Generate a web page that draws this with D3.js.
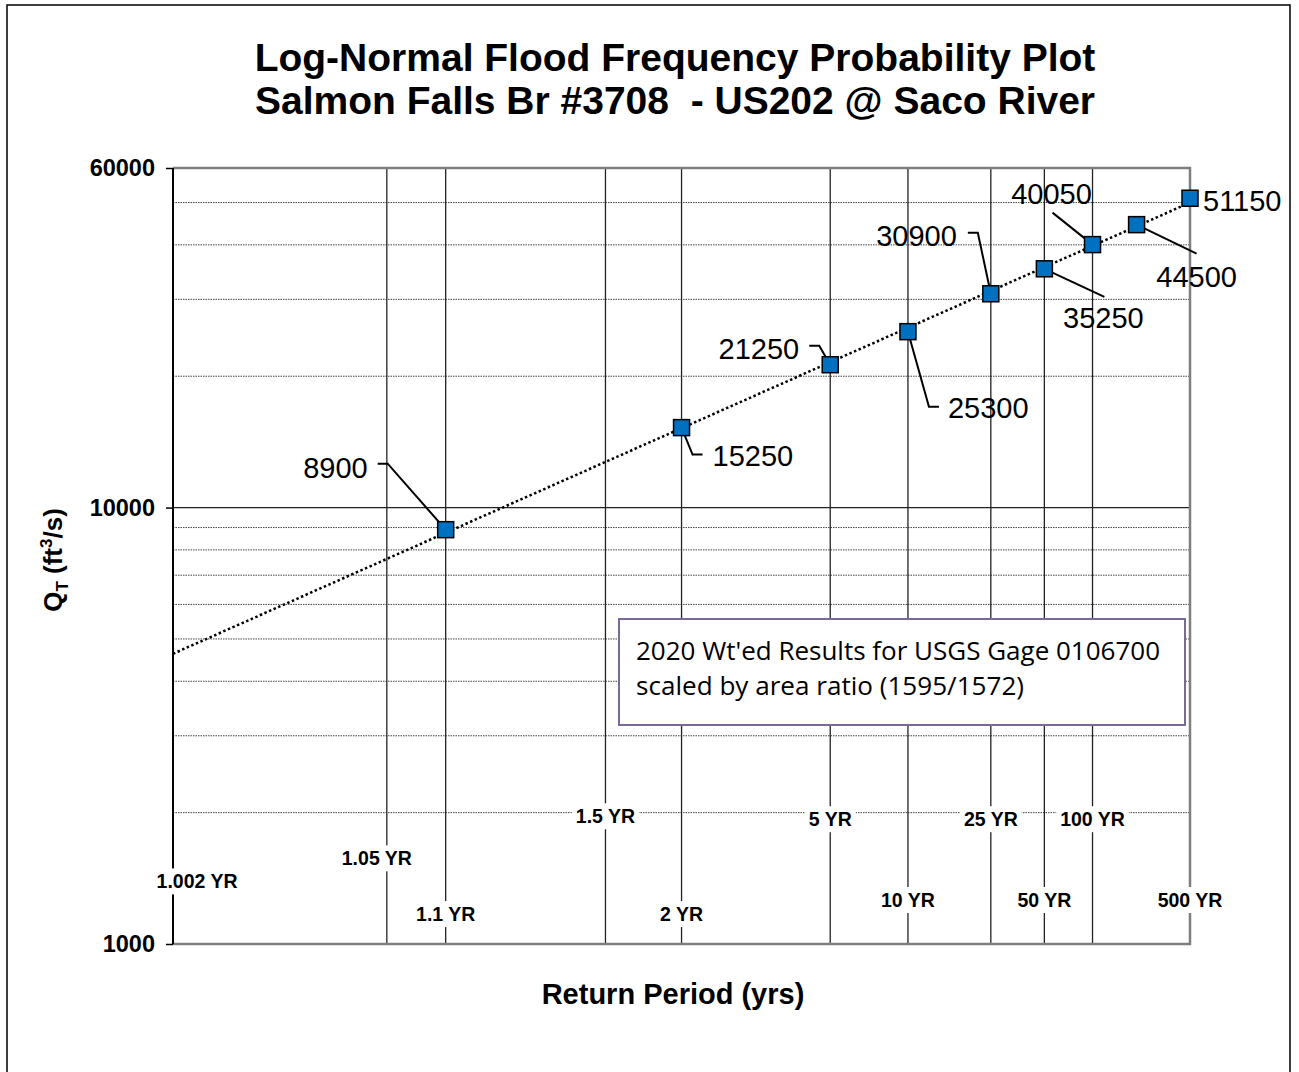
<!DOCTYPE html>
<html>
<head>
<meta charset="utf-8">
<script src="https://cdn.jsdelivr.net/npm/d3@7"></script>
<style>
  body { margin: 0; background: #fff; }
  svg { font-family: "Liberation Sans", Arial, sans-serif; }
</style>
</head>
<body>
<svg id="chart" width="1299" height="1072"></svg>
<script>
// ---- data ----
const returnPeriods = [1.1, 2, 5, 10, 25, 50, 100, 200, 500];
const flows = [8900, 15250, 21250, 25300, 30900, 35250, 40050, 44500, 51150];

const gridPeriods = [1.002, 1.05, 1.1, 1.5, 2, 5, 10, 25, 50, 100, 500];
const gridLabels = ["1.002 YR", "1.05 YR", "1.1 YR", "1.5 YR", "2 YR", "5 YR", "10 YR", "25 YR", "50 YR", "100 YR", "500 YR"];
const gridLabelQ = [1390, 1570, 1170, 1960, 1170, 1930, 1260, 1930, 1260, 1930, 1260];

const yTickValues = [1000, 10000, 60000];
const yMinorGrid = [2000, 3000, 4000, 5000, 6000, 7000, 8000, 9000, 20000, 30000, 40000, 50000];

// label placement (pixel offsets from each point), leader line bends
const labelLayout = [
    { dx: -78, dy: -62, anchor: "end",    leader: [[-58, -66], [-68, -66]] },
    { dx: 31,  dy: 28,  anchor: "start",  leader: [[11, 27], [21, 27]] },
    { dx: -31, dy: -16, anchor: "end",    leader: [[-11, -19], [-21, -19]] },
    { dx: 40,  dy: 76,  anchor: "start",  leader: [[21, 75], [31, 75]] },
    { dx: -34, dy: -58, anchor: "end",    leader: [[-13, -61], [-23, -61]] },
    { dx: 59,  dy: 49,  anchor: "middle", leader: [[60, 28]] },
    { dx: -41, dy: -51, anchor: "middle", leader: [[-40, -32]] },
    { dx: 60,  dy: 52,  anchor: "middle", leader: [[60, 29]] },
    { dx: 13,  dy: 3,   anchor: "start",  leader: [] }
];
const gridLabelDx = [24, -10, 0, 0, 0, 0, 0, 0, 0, 0, 0];

// inverse standard normal CDF (Acklam)
function normInv(p) {
    const a = [-39.69683028665376, 220.9460984245205, -275.9285104469687, 138.357751867269, -30.66479806614716, 2.506628277459239];
    const b = [-54.47609879822406, 161.5858368580409, -155.6989798598866, 66.80131188771972, -13.28068155288572];
    const c = [-0.007784894002430293, -0.3223964580411365, -2.400758277161838, -2.549732539343734, 4.374664141464968, 2.938163982698783];
    const d = [0.007784695709041462, 0.3224671290700398, 2.445134137142996, 3.754408661907416];
    const pl = 0.02425;
    let q, r;
    if (p < pl) {
        q = Math.sqrt(-2 * Math.log(p));
        return (((((c[0]*q+c[1])*q+c[2])*q+c[3])*q+c[4])*q+c[5]) / ((((d[0]*q+d[1])*q+d[2])*q+d[3])*q+1);
    } else if (p <= 1 - pl) {
        q = p - 0.5; r = q * q;
        return (((((a[0]*r+a[1])*r+a[2])*r+a[3])*r+a[4])*r+a[5])*q / (((((b[0]*r+b[1])*r+b[2])*r+b[3])*r+b[4])*r+1);
    }
    q = Math.sqrt(-2 * Math.log(1 - p));
    return -(((((c[0]*q+c[1])*q+c[2])*q+c[3])*q+c[4])*q+c[5]) / ((((d[0]*q+d[1])*q+d[2])*q+d[3])*q+1);
}
const zOf = T => normInv(1 - 1 / T);

const svg = d3.select("#chart");
const plot = { left: 173, right: 1190, top: 168, bottom: 944 };

const xScale = d3.scaleLinear().domain([zOf(1.002), zOf(500)]).range([plot.left, plot.right]);
const yScale = d3.scaleLog().domain([1000, 60000]).range([plot.bottom, plot.top]);

// outer chart border
svg.append("rect")
    .attr("x", 7).attr("y", 5).attr("width", 1283).attr("height", 1080)
    .attr("fill", "none").attr("stroke", "#000").attr("stroke-width", 1.5);

// title
const title = svg.append("text")
    .attr("text-anchor", "middle")
    .attr("font-weight", "bold")
    .attr("font-size", 39);
title.append("tspan").attr("x", 675).attr("y", 71).text("Log-Normal Flood Frequency Probability Plot");
title.append("tspan").attr("x", 675).attr("y", 114).text("Salmon Falls Br #3708  - US202 @ Saco River")
    .attr("xml:space", "preserve").style("white-space", "pre");

const g = svg.append("g");

// horizontal grid
g.selectAll(".hgrid")
    .data(yMinorGrid)
    .enter().append("line")
    .attr("x1", plot.left).attr("x2", plot.right)
    .attr("y1", d => yScale(d)).attr("y2", d => yScale(d))
    .attr("stroke", "#444").attr("stroke-width", 1)
    .attr("stroke-dasharray", "1.5,1");

g.append("line")
    .attr("x1", plot.left).attr("x2", plot.right)
    .attr("y1", yScale(10000)).attr("y2", yScale(10000))
    .attr("stroke", "#222").attr("stroke-width", 1.2);

// vertical grid
g.selectAll(".vgrid")
    .data(gridPeriods.slice(1, -1))
    .enter().append("line")
    .attr("x1", d => xScale(zOf(d))).attr("x2", d => xScale(zOf(d)))
    .attr("y1", plot.top).attr("y2", plot.bottom)
    .attr("stroke", "#222").attr("stroke-width", 1.3);

// plot frame
g.append("path")
    .attr("d", `M${plot.left},${plot.top}H${plot.right}V${plot.bottom}H${plot.left}`)
    .attr("fill", "none").attr("stroke", "#7f7f7f").attr("stroke-width", 2.5);
g.append("line")
    .attr("x1", plot.left).attr("x2", plot.left)
    .attr("y1", plot.top).attr("y2", plot.bottom)
    .attr("stroke", "#000").attr("stroke-width", 2);

// y axis ticks + labels
const yAxis = d3.axisLeft(yScale)
    .tickValues(yTickValues)
    .tickFormat(d3.format("d"))
    .tickSize(7)
    .tickPadding(11);
const ya = svg.append("g").attr("transform", `translate(${plot.left},0)`).call(yAxis);
ya.select(".domain").remove();
ya.selectAll(".tick line").attr("stroke", "#000").attr("stroke-width", 1.5);
ya.attr("font-family", null).attr("font-size", null);
ya.selectAll(".tick text")
    .attr("font-size", 23.5).attr("font-weight", "bold").attr("fill", "#000");

// return period labels (white backed)
const rl = g.selectAll(".rp-label")
    .data(gridPeriods)
    .enter().append("g")
    .attr("transform", (d, i) => `translate(${xScale(zOf(d)) + gridLabelDx[i]},${yScale(gridLabelQ[i])})`);
rl.append("text")
    .attr("text-anchor", "middle")
    .attr("dy", "0.35em")
    .attr("font-size", 19.5).attr("font-weight", "bold")
    .text((d, i) => gridLabels[i]);
rl.each(function () {
    const t = d3.select(this).select("text");
    const bb = t.node().getBBox();
    d3.select(this).insert("rect", "text")
        .attr("x", bb.x - 4).attr("y", bb.y - 2)
        .attr("width", bb.width + 8).attr("height", bb.height + 4)
        .attr("fill", "#fff");
});

// log-normal trend line: least squares of log10(Q) on z
const pts = returnPeriods.map((T, i) => ({ z: zOf(T), lq: Math.log10(flows[i]), T, Q: flows[i] }));
const mz = d3.mean(pts, d => d.z), mq = d3.mean(pts, d => d.lq);
const slope = d3.sum(pts, d => (d.z - mz) * (d.lq - mq)) / d3.sum(pts, d => (d.z - mz) ** 2);
const icpt = mq - slope * mz;
const trendZ = xScale.domain();
g.append("path")
    .datum(trendZ)
    .attr("d", d3.line().x(z => xScale(z)).y(z => yScale(Math.pow(10, icpt + slope * z))))
    .attr("fill", "none").attr("stroke", "#000").attr("stroke-width", 2.5)
    .attr("stroke-dasharray", "2.5,2.5");

// leader lines
g.selectAll(".leader")
    .data(pts)
    .enter().append("polyline")
    .filter((d, i) => labelLayout[i].leader.length > 0)
    .attr("points", function (d) {
        const i = pts.indexOf(d);
        const x = xScale(d.z), y = yScale(d.Q);
        const pp = [[x, y]].concat(labelLayout[i].leader.map(o => [x + o[0], y + o[1]]));
        return pp.map(p => p.join(",")).join(" ");
    })
    .attr("fill", "none").attr("stroke", "#000").attr("stroke-width", 2);

// markers
g.selectAll(".pt")
    .data(pts)
    .enter().append("rect")
    .attr("x", d => xScale(d.z) - 8).attr("y", d => yScale(d.Q) - 8)
    .attr("width", 16).attr("height", 16)
    .attr("fill", "#0070c0").attr("stroke", "#000").attr("stroke-width", 1.5);

// data labels
g.selectAll(".dl")
    .data(pts)
    .enter().append("text")
    .attr("x", (d, i) => xScale(d.z) + labelLayout[i].dx)
    .attr("y", (d, i) => yScale(d.Q) + labelLayout[i].dy)
    .attr("dy", "0.35em")
    .attr("text-anchor", (d, i) => labelLayout[i].anchor)
    .attr("font-size", 29)
    .text(d => d.Q);

// annotation box
svg.append("rect")
    .attr("x", 619).attr("y", 619).attr("width", 566).attr("height", 106)
    .attr("fill", "#fff").attr("stroke", "#7a6a96").attr("stroke-width", 2);
const note = svg.append("text")
    .style("font-family", "'Open Sans', 'Noto Sans', sans-serif")
    .attr("font-size", 25);
note.append("tspan").attr("x", 636).attr("y", 660)
    .attr("textLength", 524).attr("lengthAdjust", "spacingAndGlyphs")
    .text("2020 Wt'ed Results for USGS Gage 0106700");
note.append("tspan").attr("x", 636).attr("y", 695)
    .attr("textLength", 388).attr("lengthAdjust", "spacingAndGlyphs")
    .text("scaled by area ratio (1595/1572)");

// axis titles
svg.append("text")
    .attr("x", 673).attr("y", 1004)
    .attr("text-anchor", "middle")
    .attr("font-size", 29).attr("font-weight", "bold")
    .text("Return Period (yrs)");

const yt = svg.append("text")
    .attr("transform", "translate(62,560) rotate(-90)")
    .attr("text-anchor", "middle")
    .attr("font-size", 26).attr("font-weight", "bold");
yt.append("tspan").text("Q");
yt.append("tspan").attr("font-size", 17).attr("dy", 6).text("T");
yt.append("tspan").attr("dy", -6).text(" (ft");
yt.append("tspan").attr("font-size", 17).attr("dy", -10).text("3");
yt.append("tspan").attr("dy", 10).text("/s)");
</script>
</body>
</html>
